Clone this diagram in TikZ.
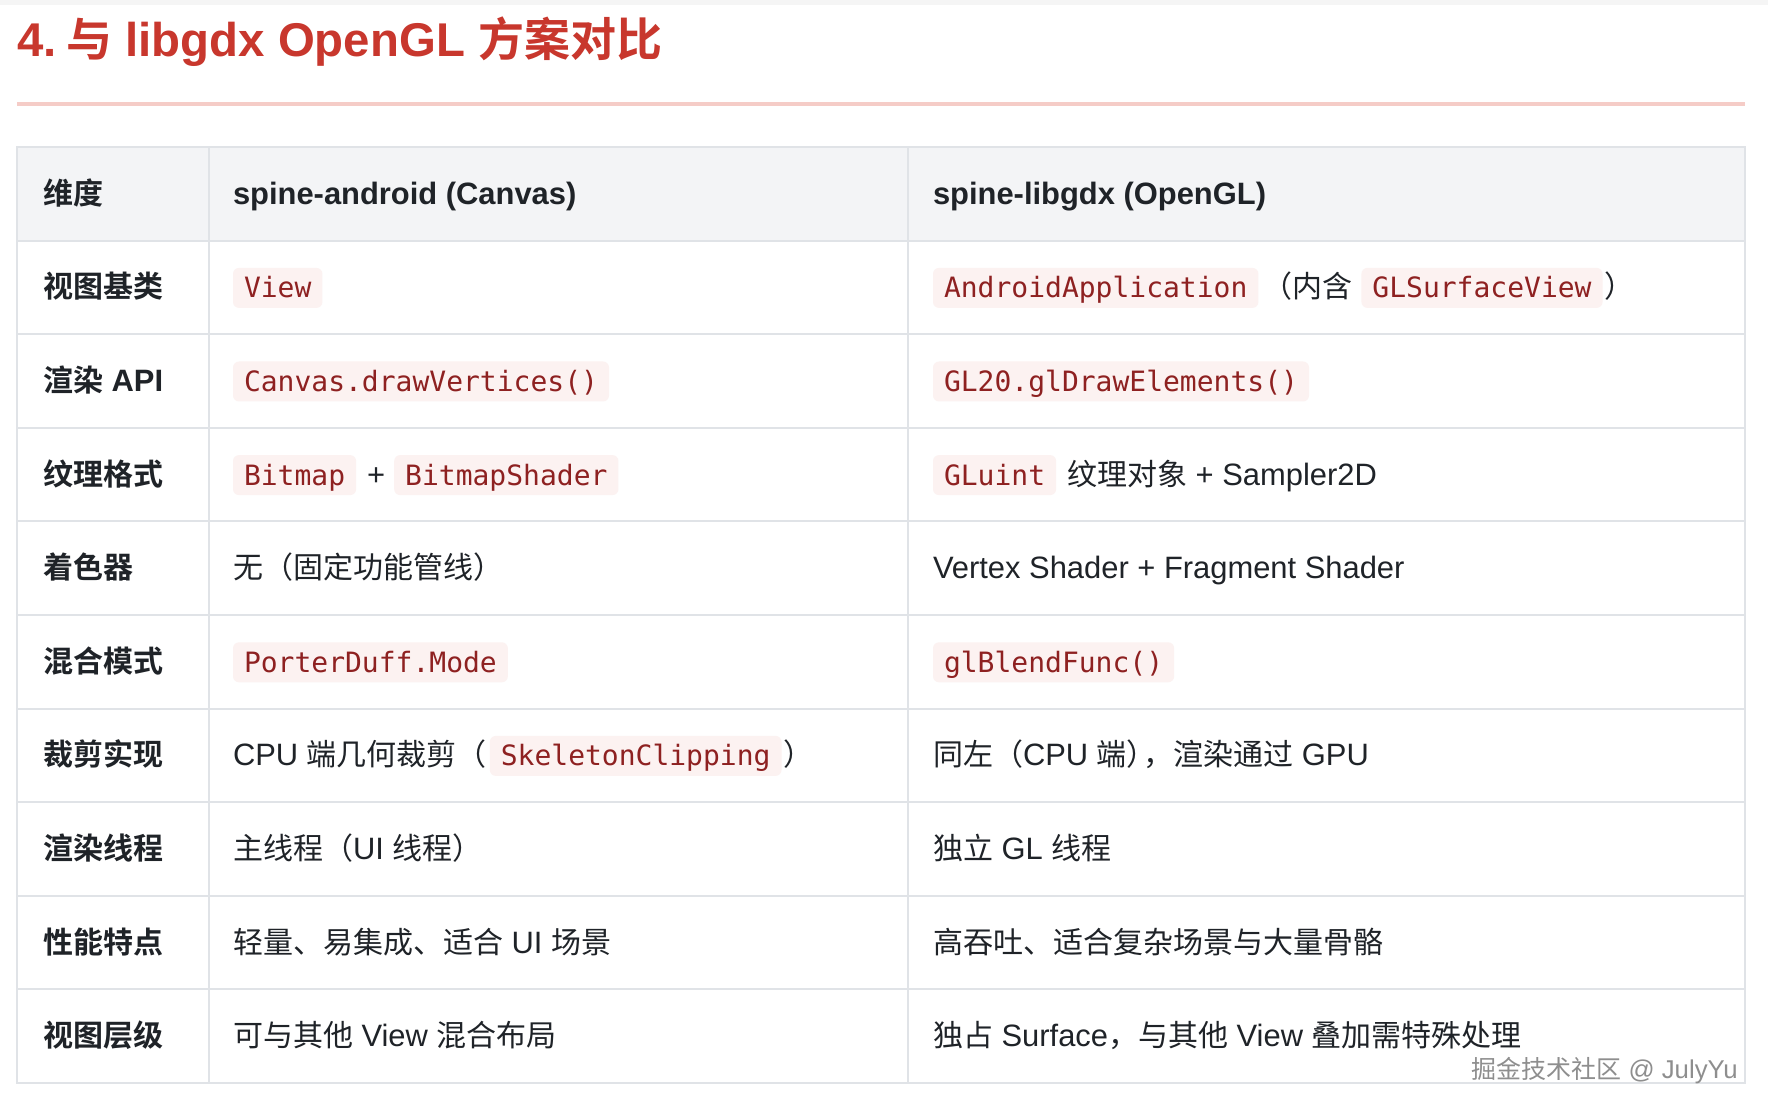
\documentclass[tikz,border=0pt]{standalone}
\usepackage{fontspec}
\setmainfont{Liberation Sans}[Scale=1.03]
\newfontfamily\cjk{Noto Sans CJK SC}[BoldFont={Noto Sans CJK SC Bold}]
\newfontfamily\monofam{DejaVu Sans Mono}
\newcommand\zh[1]{{\cjk #1}}
\definecolor{ink}{HTML}{1F2328}
\definecolor{titlered}{HTML}{C8372D}
\definecolor{rulecol}{HTML}{F5CCC7}
\definecolor{gridcol}{HTML}{E0E3E7}
\definecolor{headbg}{HTML}{F3F4F6}
\definecolor{codebg}{HTML}{FCF2F1}
\definecolor{codefg}{HTML}{8E2121}
\definecolor{wmcol}{HTML}{8E8E8E}
\definecolor{topband}{HTML}{F5F5F5}
\tikzset{
  cell/.style={inner sep=0pt, outer sep=0pt, anchor=base west, text=ink, font=\fontsize{22.5pt}{27pt}\selectfont},
  headcell/.style={cell, font=\fontsize{22.5pt}{27pt}\selectfont\bfseries},
  code/.style={anchor=base west, fill=codebg, rounded corners=4.5pt, inner xsep=8.25pt, inner ysep=0pt,
    text height=22.5pt, text depth=7.5pt, outer sep=0pt, text=codefg, font=\fontsize{21pt}{25pt}\selectfont\monofam},
  gridline/.style={draw=gridcol, line width=1.5pt},
}
\begin{document}
\begin{tikzpicture}[x=0.75pt,y=-0.75pt]
\useasboundingbox (0,0) rectangle (1768,1116);
\fill[white] (0,0) rectangle (1768,1116);
\fill[topband] (0,0) rectangle (1768,5);
% title
\node[anchor=base west, inner sep=0pt, text=titlered, font=\fontsize{34.5pt}{40pt}\selectfont\bfseries] (title) at (17,57) {4.\hspace{0.2em}\zh{与} libgdx OpenGL \zh{方案对比}};
\draw[rulecol, line width=3pt] (17,104) -- (1745,104);
% table
\fill[headbg] (17,147) rectangle (1745,240.6);
\foreach \yy in {240.6,334.2,427.8,521.4,615,708.6,802.2,895.8,989.4}
  \draw[gridline] (17,\yy) -- (1745,\yy);
\draw[gridline] (209,147) -- (209,1083);
\draw[gridline] (908,147) -- (908,1083);
\draw[gridline] (17,147) rectangle (1745,1083);
% header
\node[headcell] (h1) at (43,204.3) {\zh{维度}};
\node[headcell] (h2) at (233,204.3) {spine-android (Canvas)};
\node[headcell] (h3) at (933,204.3) {spine-libgdx (OpenGL)};
% row 1
\node[headcell] (r1a) at (43,297.9) {\zh{视图基类}};
\node[code] (r1b) at (233,297.9) {View};
\node[code] (r1c1) at (933,297.9) {AndroidApplication};
\node[cell] (r1c2) at ([xshift=3pt]r1c1.base east) {\zh{（内含}};
\node[code] (r1c3) at ([xshift=6.75pt]r1c2.base east) {GLSurfaceView};
\node[cell] (r1c4) at ([xshift=1.5pt]r1c3.base east) {\zh{）}};
% row 2
\node[headcell] (r2a) at (43,391.5) {\zh{渲染} API};
\node[code] (r2b) at (233,391.5) {Canvas.drawVertices()};
\node[code] (r2c) at (933,391.5) {GL20.glDrawElements()};
% row 3
\node[headcell] (r3a) at (43,485.1) {\zh{纹理格式}};
\node[code] (r3b1) at (233,485.1) {Bitmap};
\node[cell] (r3b2) at ([xshift=8.25pt]r3b1.base east) {+};
\node[code] (r3b3) at ([xshift=6.75pt]r3b2.base east) {BitmapShader};
\node[code] (r3c1) at (933,485.1) {GLuint};
\node[cell] (r3c2) at ([xshift=8.25pt]r3c1.base east) {\zh{纹理对象} + Sampler2D};
% row 4
\node[headcell] (r4a) at (43,578.7) {\zh{着色器}};
\node[cell] (r4b) at (233,578.7) {\zh{无（固定功能管线）}};
\node[cell] (r4c) at (933,578.7) {Vertex Shader + Fragment Shader};
% row 5
\node[headcell] (r5a) at (43,672.3) {\zh{混合模式}};
\node[code] (r5b) at (233,672.3) {PorterDuff.Mode};
\node[code] (r5c) at (933,672.3) {glBlendFunc()};
% row 6
\node[headcell] (r6a) at (43,765.9) {\zh{裁剪实现}};
\node[cell] (r6b1) at (233,765.9) {CPU \zh{端几何裁剪（}};
\node[code] (r6b2) at ([xshift=2.25pt]r6b1.base east) {SkeletonClipping};
\node[cell] (r6b3) at ([xshift=1.5pt]r6b2.base east) {\zh{）}};
\node[cell] (r6c) at (933,765.9) {\zh{同左（}CPU \zh{端）\kern-0.45em，渲染通过} GPU};
% row 7
\node[headcell] (r7a) at (43,859.5) {\zh{渲染线程}};
\node[cell] (r7b) at (233,859.5) {\zh{主线程（}UI \zh{线程）}};
\node[cell] (r7c) at (933,859.5) {\zh{独立} GL \zh{线程}};
% row 8
\node[headcell] (r8a) at (43,953.1) {\zh{性能特点}};
\node[cell] (r8b) at (233,953.1) {\zh{轻量、易集成、适合} UI \zh{场景}};
\node[cell] (r8c) at (933,953.1) {\zh{高吞吐、适合复杂场景与大量骨骼}};
% row 9
\node[headcell] (r9a) at (43,1046.7) {\zh{视图层级}};
\node[cell] (r9b) at (233,1046.7) {\zh{可与其他} View \zh{混合布局}};
\node[cell] (r9c) at (933,1046.7) {\zh{独占} Surface\zh{，与其他} View \zh{叠加需特殊处理}};
% watermark
\node[anchor=base east, inner sep=0pt, text=wmcol, font=\fontsize{18.75pt}{22pt}\selectfont] (wm) at (1738,1078) {\zh{掘金技术社区} @ JulyYu};
\end{tikzpicture}
\end{document}
